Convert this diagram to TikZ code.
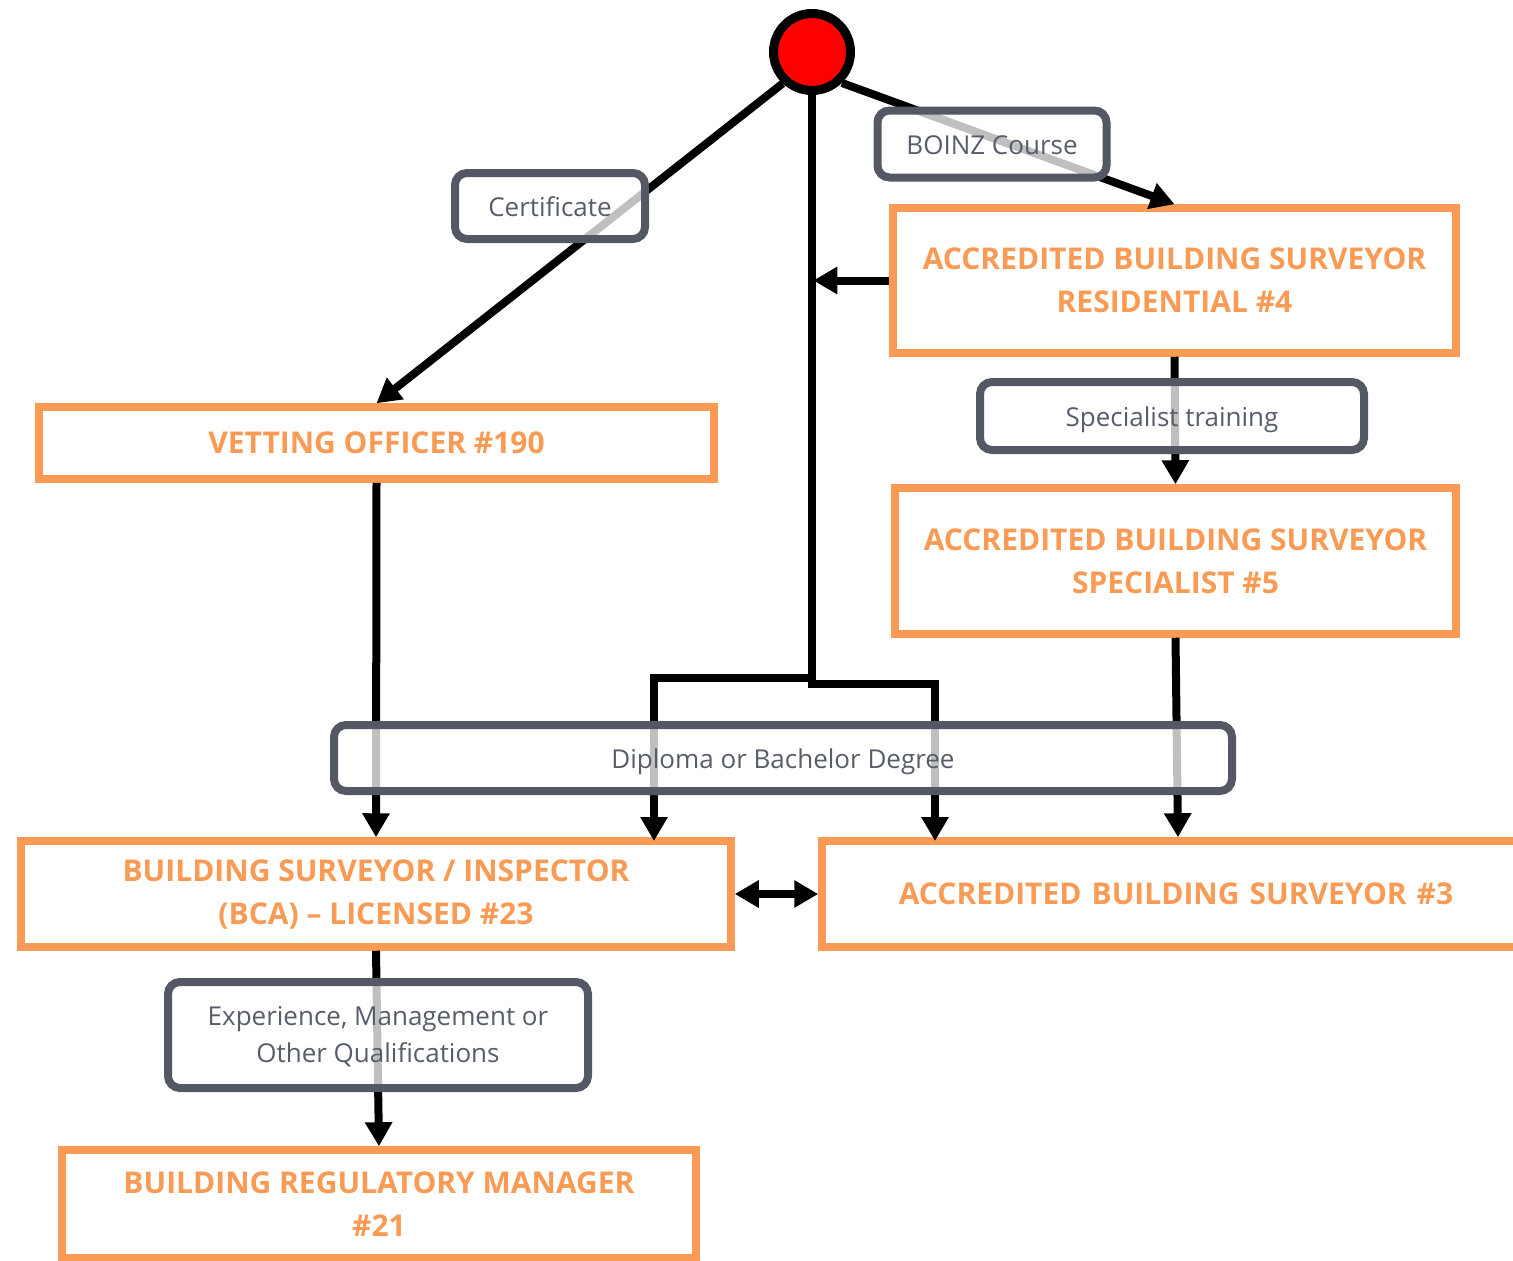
\documentclass[tikz,border=0pt]{standalone}
\usepackage{fontspec}
\setmainfont{Open Sans}
\usetikzlibrary{arrows.meta}
\definecolor{roleorange}{RGB}{250,155,85}
\definecolor{slate}{RGB}{84,88,100}
\definecolor{slatetext}{RGB}{88,93,106}

\begin{document}
\begin{tikzpicture}[x=1pt,y=-1pt,
  role/.style={draw=roleorange, line width=7.5pt, fill=white, text=roleorange,
    font=\fontsize{30}{43}\selectfont\bfseries, align=center, inner sep=0pt},
  route/.style={draw=slate, line width=8pt, rounded corners=12pt, fill=white,
    fill opacity=0.75, text opacity=1, text=slatetext,
    font=\fontsize{26}{37}\selectfont, align=center, inner sep=0pt},
  oneline/.style={text height=20pt, text depth=0pt},
  link/.style={line width=8pt, -{Triangle[width=26pt,length=24pt]}},
  twoway/.style={line width=8pt, {Triangle[width=26pt,length=24pt]}-{Triangle[width=26pt,length=24pt]}},
  trunk/.style={line width=8pt},
]
\useasboundingbox (0,0) rectangle (1513,1261);

% career stages
\node[role, minimum width=563pt, minimum height=145pt] (res4) at (1174.5,280.5)
  {ACCREDITED BUILDING SURVEYOR\\RESIDENTIAL \#4};
\node[role, minimum width=561pt, minimum height=146pt] (spec5) at (1175.5,561)
  {ACCREDITED BUILDING SURVEYOR\\SPECIALIST \#5};
\node[role, minimum width=675pt, minimum height=72pt] (vet) at (376.5,443)
  {VETTING OFFICER \#190};
\node[role, minimum width=710pt, minimum height=106pt] (bsi) at (376,894)
  {BUILDING SURVEYOR / INSPECTOR\\(BCA) -- LICENSED \#23};
\node[role, minimum width=708pt, minimum height=106pt, text width=708pt] (abs3) at (1176,894)
  {ACCREDITED BUILDING SURVEYOR \#3};
\node[role, minimum width=634pt, minimum height=108pt] (brm) at (379,1204)
  {BUILDING REGULATORY MANAGER\\\#21};

% starting point
\node[circle, draw=black, line width=9pt, fill=red, minimum size=77pt, inner sep=0pt] (dot) at (812,52) {};

% bend points of the trunk line and its two branches
\coordinate (forkL) at (812,678);
\coordinate (forkR) at (812,684);
\coordinate (bsiIn) at (654,841);
\coordinate (absIn) at (935,841);

% connectors
\draw[link] (dot.-133) -- (vet.north);
\draw[link] (dot.-46) -- (res4.north);
\draw[trunk] (dot.south) -- ([yshift=4pt]forkR);
\draw[link] ([xshift=4pt]forkL) -| (bsiIn);
\draw[link] ([xshift=-4pt]forkR) -| (absIn);
\draw[link] (res4.west) -- ++(-76,0);
\draw[link] (res4.south) -- (spec5.north);
\draw[link] (spec5.south) -- ([xshift=2pt]abs3.north);
\draw[link] (vet.south) -- (bsi.north);
\draw[twoway] (bsi.east) -- (abs3.west);
\draw[link] (bsi.south) -- (brm.north);

% qualification routes, laid over the connectors
\node[route, oneline, minimum width=190pt, minimum height=66pt] (cert) at (550,206) {Certificate};
\node[route, oneline, minimum width=229pt, minimum height=67pt] (boinz) at (992,144) {BOINZ Course};
\node[route, oneline, minimum width=384pt, minimum height=68pt] (spectrain) at (1172,416) {Specialist training};
\node[route, oneline, minimum width=898pt, minimum height=66pt] (diploma) at (783,758) {Diploma or Bachelor Degree};
\node[route, minimum width=420pt, minimum height=106pt] (exper) at (378,1035)
  {\rule{0pt}{22pt}Experience, Management or\\Other Qualifications};
\end{tikzpicture}
\end{document}
